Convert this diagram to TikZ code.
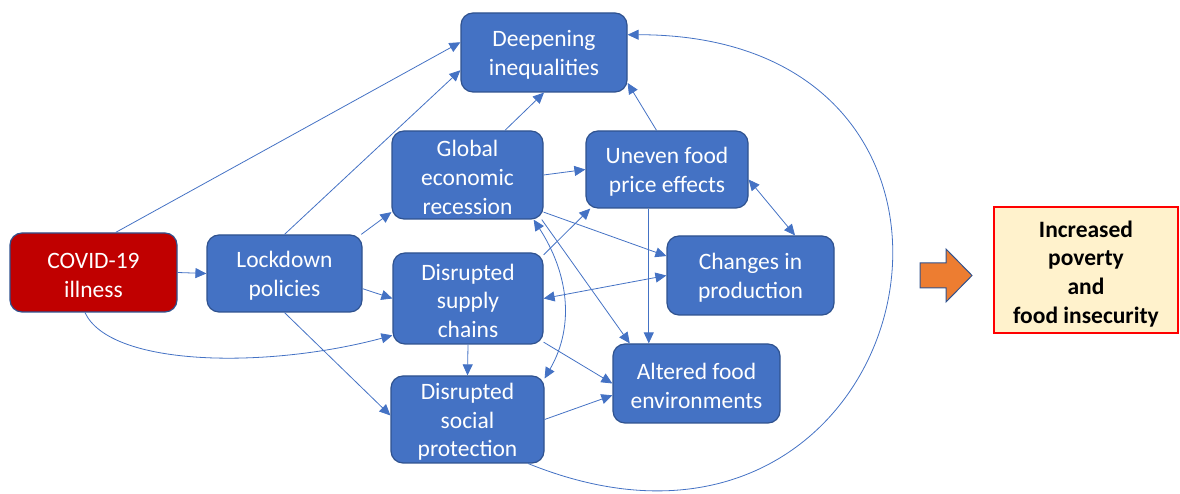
\documentclass[tikz,border=0pt]{standalone}
\usepackage{fontspec}
\setmainfont{Carlito}
\usepackage{tikz}
\usetikzlibrary{arrows.meta, calc}

\definecolor{boxblue}{HTML}{4472C4}
\definecolor{boxedge}{HTML}{2F528F}
\definecolor{covidred}{HTML}{C00000}
\definecolor{resultfill}{HTML}{FFF2CC}
\definecolor{arroworange}{HTML}{ED7D31}

\begin{document}
\begin{tikzpicture}[x=1pt, y=1pt,
        box/.style={draw=boxedge, line width=1.2pt, fill=boxblue, rounded corners=12pt,
            text=white, align=flush center, text width=140pt, inner sep=0pt,
            font=\fontsize{23.5}{28.7}\selectfont,
            execute at begin node={\rule{0pt}{21pt}}},
        link/.style={draw=boxblue, line width=0.8pt, -{Triangle[length=11pt, width=10pt]}},
        twoway/.style={link, {Triangle[length=11pt, width=10pt]}-{Triangle[length=11pt, width=10pt]}}]
    \useasboundingbox (0,0) rectangle (1180,494);

    % boxes
    \node[box, fill=covidred, minimum width=167pt, minimum height=79pt] (covid) at (93.5,221.5) {COVID-19\\illness};
    \node[box, minimum width=155pt, minimum height=77pt] (lockdown) at (284.5,220.5) {Lockdown\\policies};
    \node[box, minimum width=166pt, minimum height=79pt] (deep) at (544,441.5) {Deepening\\inequalities};
    \node[box, minimum width=151pt, minimum height=88pt] (glob) at (467.5,319) {Global\\economic\\recession};
    \node[box, minimum width=162pt, minimum height=77pt] (uneven) at (667,324.5) {Uneven food\\price effects};
    \node[box, minimum width=167pt, minimum height=79pt] (changes) at (750.5,218.5) {Changes in\\production};
    \node[box, minimum width=150pt, minimum height=91pt] (supply) at (468,195.5) {Disrupted\\supply\\chains};
    \node[box, minimum width=167pt, minimum height=79pt] (altered) at (696.5,110.5) {Altered food\\environments};
    \node[box, minimum width=153pt, minimum height=87pt] (social) at (467.5,74.5) {Disrupted\\social\\protection};

    % straight arrows
    \foreach \a/\b in {covid.61/deep.173, lockdown.north/deep.192, lockdown.27/glob.206,
        covid.east/lockdown.west, lockdown.349/supply.west, lockdown.south/social.177,
        glob.50/deep.south, uneven.105/deep.340, glob.east/uneven.west,
        glob.334/changes.167, glob.329/altered.149, supply.30/uneven.207,
        supply.330/altered.west, social.east/altered.188, supply.south/social.north}
    {
        \draw[link] (\a) -- (\b);
    }
    \draw[link] (uneven.245) -- (uneven.245 |- altered.north);

    % both ways
    \draw[twoway] (uneven.353) -- (changes.42);
    \draw[twoway] (changes.west) -- (supply.east);

    % curved arrows
    \draw[link] (covid.258) to[out=-65, in=195, out distance=60pt, in distance=130pt] (supply.206);
    \draw[twoway] (glob.326) to[out=-57, in=60] (social.28);
    \draw[link] (social.324) to[out=-22, in=0, looseness=2.47] (deep.12);

    % outcome
    \filldraw[fill=arroworange, draw=boxedge, line width=1pt]
        (920,206) -- (946,206) -- (946,192) -- (972,218.5) -- (946,245) -- (946,231) -- (920,231) -- cycle;
    \node[draw=red, line width=2.5pt, fill=resultfill, align=flush center, text width=180pt, inner sep=0pt,
        minimum width=184pt, minimum height=126pt,
        font=\bfseries\fontsize{23.5}{28.7}\selectfont,
        execute at begin node={\rule{0pt}{24pt}}] (result) at (1086,224)
        {Increased\\poverty\\and\\food insecurity};
\end{tikzpicture}
\end{document}
